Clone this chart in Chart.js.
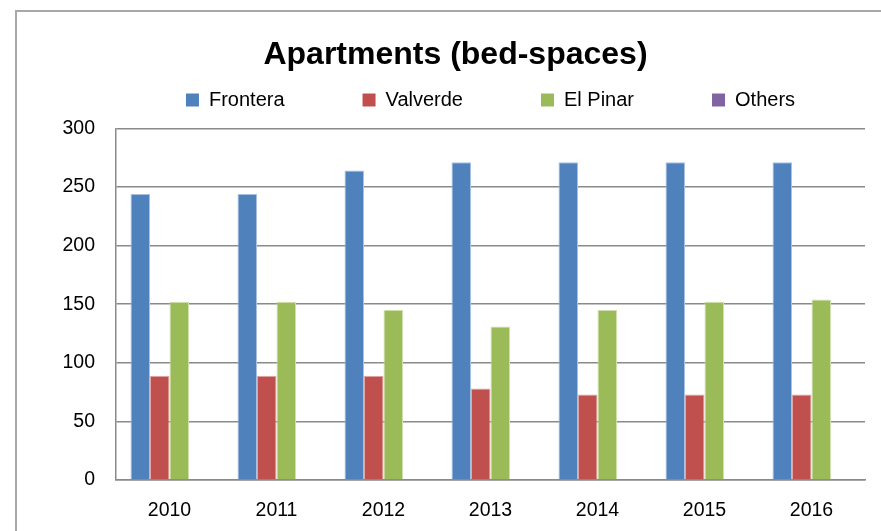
<!DOCTYPE html>
<html>
<head>
<meta charset="utf-8">
<script src="https://cdn.jsdelivr.net/npm/chart.js@4/dist/chart.umd.min.js"></script>
<style>
  html, body { margin: 0; padding: 0; background: #ffffff; overflow: hidden; width: 881px; height: 531px; }
  #frame { position: absolute; left: 15px; top: 10px; width: 1000px; height: 1000px;
           border-left: 2px solid #a8a8a8; border-top: 2px solid #a8a8a8; }
  #wrap { position: absolute; left: 0; top: 0; width: 881px; height: 531px; }
</style>
</head>
<body>
<div id="frame"></div>
<div id="wrap"><canvas id="c" width="881" height="531"></canvas></div>
<script>
// ---- data ----
const years = ['2010', '2011', '2012', '2013', '2014', '2015', '2016'];
const frontera = [244, 244, 264, 271, 271, 271, 271];
const valverde = [89, 89, 89, 78, 73, 73, 73];
const elPinar = [152, 152, 145, 131, 145, 152, 154];
const others = [0, 0, 0, 0, 0, 0, 0];
const yMin = 0;
const yMax = 300;
const yStep = 50;
const chartTitle = 'Apartments (bed-spaces)';

const FONT = "'Liberation Sans', Arial, sans-serif";
const LEGEND_PAD = 78;     // horizontal gap between legend items
const LEGEND_TOP = 12;     // y where the legend box starts

// Places the legend row between the title and the plot area,
// centred over the plot area (Excel-like layout).
const legendPlacer = {
  id: 'legendPlacer',
  afterLayout(chart) {
    const l = chart.legend;
    if (!l) return;
    const ca = chart.chartArea;
    const cx = (ca.left + ca.right) / 2;
    const half = 420;
    l.left = cx - half;
    l.right = cx + half;
    l.width = 2 * half;
    l.top = LEGEND_TOP;
    l.height = LEGEND_PAD + 20 + 12;
    l.bottom = l.top + l.height;
  }
};

new Chart(document.getElementById('c'), {
  type: 'bar',
  data: {
    labels: years,
    datasets: [
      { label: 'Frontera', data: frontera, backgroundColor: '#4F81BD', borderColor: '#A9C1E0', borderWidth: 1 },
      { label: 'Valverde', data: valverde, backgroundColor: '#C0504D', borderColor: '#E2A8A6', borderWidth: 1 },
      { label: 'El Pinar', data: elPinar, backgroundColor: '#9BBB59', borderColor: '#CFE0AE', borderWidth: 1 },
      { label: 'Others', data: others, backgroundColor: '#8064A2', borderColor: '#8064A2', borderWidth: 0 }
    ]
  },
  plugins: [legendPlacer],
  options: {
    responsive: false,
    animation: false,
    devicePixelRatio: 1,
    layout: { padding: { left: 46, right: 16, top: 12, bottom: 10 } },
    datasets: { bar: { categoryPercentage: 0.729, barPercentage: 1.0 } },
    plugins: {
      tooltip: { enabled: false },
      legend: {
        display: true,
        position: 'top',
        weight: 0,
        fullSize: true,
        maxHeight: 1,
        labels: {
          boxWidth: 13,
          boxHeight: 13,
          padding: LEGEND_PAD,
          color: '#000000',
          font: { family: FONT, size: 20 },
          generateLabels: (chart) => chart.data.datasets.map((ds, i) => ({
            text: ds.label,
            fillStyle: ds.backgroundColor,
            strokeStyle: ds.backgroundColor,
            lineWidth: 0,
            hidden: false,
            datasetIndex: i
          }))
        }
      },
      title: {
        display: true,
        text: chartTitle,
        color: '#000000',
        font: { family: FONT, size: 32, weight: 'bold' },
        padding: { top: 23.8, bottom: 53.1 }
      }
    },
    scales: {
      x: {
        grid: { display: false, drawTicks: false },
        border: { display: true, color: '#8a8a8a', width: 1.5 },
        ticks: { color: '#000000', font: { family: FONT, size: 19.5 }, padding: 18.5, maxRotation: 0 },
        afterFit: (s) => { s.height = 41; }
      },
      y: {
        min: yMin,
        max: yMax,
        ticks: { stepSize: yStep, color: '#000000', font: { family: FONT, size: 19.5 }, padding: 21 },
        grid: { color: '#8a8a8a', lineWidth: 1.5, drawTicks: false },
        border: { display: true, color: '#8a8a8a', width: 1.5 },
        afterFit: (s) => { s.width = 70; }
      }
    }
  }
});
</script>
</body>
</html>
